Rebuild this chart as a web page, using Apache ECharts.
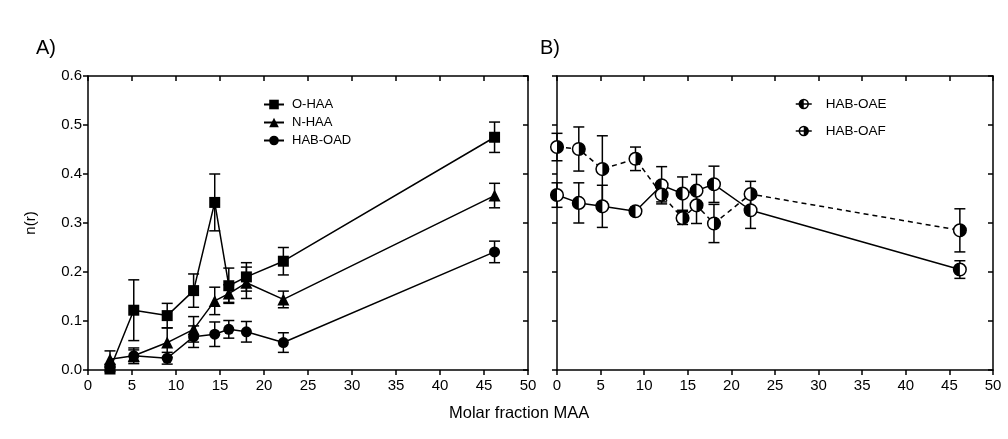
<!DOCTYPE html>
<html>
<head>
<meta charset="utf-8">
<script src="https://cdn.jsdelivr.net/npm/echarts@6/dist/echarts.min.js"></script>
<style>
html,body{margin:0;padding:0;background:#fff;}
#chart{width:1008px;height:439px;}
</style>
</head>
<body>
<div id="chart"></div>
<script>
// ---------- data ----------
const xTicks = [0, 5, 10, 15, 20, 25, 30, 35, 40, 45, 50];
const yTicks = [0.0, 0.1, 0.2, 0.3, 0.4, 0.5, 0.6];

// Panel A
const xA = [2.5, 5.2, 9.0, 12.0, 14.4, 16.0, 18.0, 22.2, 46.2];
const oHAA = [0.002, 0.122, 0.111, 0.162, 0.342, 0.172, 0.190, 0.222, 0.475];
const oHAAErr = [0.005, 0.062, 0.025, 0.034, 0.058, 0.036, 0.029, 0.028, 0.031];
const nHAA = [0.022, 0.029, 0.056, 0.083, 0.141, 0.156, 0.178, 0.144, 0.356];
const nHAAErr = [0.017, 0.012, 0.030, 0.026, 0.028, 0.018, 0.032, 0.017, 0.025];
const xOAD = [5.2, 9.0, 12.0, 14.4, 16.0, 18.0, 22.2, 46.2];
const habOAD = [0.029, 0.024, 0.068, 0.073, 0.083, 0.078, 0.056, 0.241];
const habOADErr = [0.016, 0.012, 0.022, 0.025, 0.018, 0.021, 0.020, 0.022];

// Panel B
const xB = [0, 2.5, 5.2, 9.0, 12.0, 14.4, 16.0, 18.0, 22.2, 46.2];
const habOAE = [0.357, 0.341, 0.334, 0.324, 0.377, 0.360, 0.366, 0.379, 0.326, 0.205];
const habOAEErr = [0.025, 0.041, 0.043, 0.008, 0.038, 0.034, 0.033, 0.037, 0.037, 0.018];
const habOAF = [0.455, 0.451, 0.410, 0.431, 0.358, 0.310, 0.336, 0.299, 0.359, 0.285];
const habOAFErr = [0.028, 0.045, 0.068, 0.024, 0.015, 0.013, 0.037, 0.039, 0.026, 0.044];

// ---------- helpers ----------
const FONT = '"Liberation Sans", Arial, Helvetica, sans-serif';
const BLACK = '#000';
const zip = (xs, ys) => xs.map((x, i) => [x, ys[i]]);

const LEFT_HALF = 'path://M10,0 A10,10 0 1,1 10,20 A10,10 0 1,1 10,0 Z M10,3 A7,7 0 1,0 10,17 A7,7 0 1,0 10,3 Z M10,3 A7,7 0 0,0 10,17 Z';
const RIGHT_HALF = 'path://M10,0 A10,10 0 1,1 10,20 A10,10 0 1,1 10,0 Z M10,3 A7,7 0 1,0 10,17 A7,7 0 1,0 10,3 Z M10,3 A7,7 0 0,1 10,17 Z';

function errSeries(xs, ys, es, xi, yi) {
  return {
    type: 'custom', xAxisIndex: xi, yAxisIndex: yi, z: 2, silent: true,
    data: xs.map((x, i) => [x, ys[i] - es[i], ys[i] + es[i]]),
    encode: { x: 0, y: [1, 2] },
    renderItem: function (params, api) {
      const lo = api.coord([api.value(0), api.value(1)]);
      const hi = api.coord([api.value(0), api.value(2)]);
      const w = 5.5;
      const st = { stroke: BLACK, lineWidth: 1.5 };
      return { type: 'group', children: [
        { type: 'line', shape: { x1: lo[0], y1: lo[1], x2: hi[0], y2: hi[1] }, style: st },
        { type: 'line', shape: { x1: lo[0] - w, y1: lo[1], x2: lo[0] + w, y2: lo[1] }, style: st },
        { type: 'line', shape: { x1: hi[0] - w, y1: hi[1], x2: hi[0] + w, y2: hi[1] }, style: st }
      ]};
    }
  };
}

function halfMarkerSeries(xs, ys, side, xi, yi) {
  return {
    type: 'custom', xAxisIndex: xi, yAxisIndex: yi, z: 4, silent: true,
    data: zip(xs, ys),
    encode: { x: 0, y: 1 },
    renderItem: function (params, api) {
      const p = api.coord([api.value(0), api.value(1)]);
      const r = 6.3;
      const start = side === 'left' ? Math.PI / 2 : -Math.PI / 2;
      return { type: 'group', children: [
        { type: 'circle', shape: { cx: p[0], cy: p[1], r: r }, style: { fill: '#fff', stroke: BLACK, lineWidth: 1.5 } },
        { type: 'sector', shape: { cx: p[0], cy: p[1], r0: 0, r: r, startAngle: start, endAngle: start + Math.PI, clockwise: true }, style: { fill: BLACK } }
      ]};
    }
  };
}

function lineSeries(name, xs, ys, symbol, size, xi, yi, dashed, showSymbol) {
  return {
    name: name, type: 'line', xAxisIndex: xi, yAxisIndex: yi, z: 3, silent: true,
    data: zip(xs, ys),
    symbol: symbol, symbolSize: size, showSymbol: showSymbol,
    itemStyle: { color: BLACK, borderWidth: 0 },
    lineStyle: { color: BLACK, width: 1.5, type: dashed ? [5, 4] : 'solid' },
    emphasis: { disabled: true }
  };
}

function xAxes(grid) {
  const base = {
    gridIndex: grid, type: 'value', min: xTicks[0], max: xTicks[xTicks.length - 1], interval: xTicks[1] - xTicks[0],
    splitLine: { show: false },
    axisLine: { onZero: false, lineStyle: { color: BLACK, width: 1.5 } },
    axisTick: { length: 5, lineStyle: { color: BLACK, width: 1.5 } }
  };
  return [
    Object.assign({}, base, { position: 'bottom',
      axisLabel: { color: BLACK, fontSize: 15, fontFamily: FONT, margin: 8 } }),
    Object.assign({}, base, { position: 'top',
      axisTick: { inside: true, length: 5, lineStyle: { color: BLACK, width: 1.5 } },
      axisLabel: { show: false } })
  ];
}

function yAxes(grid, showLabels) {
  const base = {
    gridIndex: grid, type: 'value', min: yTicks[0], max: yTicks[yTicks.length - 1], interval: 0.1,
    splitLine: { show: false },
    axisLine: { onZero: false, lineStyle: { color: BLACK, width: 1.5 } },
    axisTick: { length: 5, lineStyle: { color: BLACK, width: 1.5 } }
  };
  return [
    Object.assign({}, base, { position: 'left',
      name: showLabels ? 'n(r)' : '', nameLocation: 'middle', nameGap: 50,
      nameTextStyle: { color: BLACK, fontSize: 15, fontFamily: FONT },
      axisLabel: { show: showLabels, color: BLACK, fontSize: 15, fontFamily: FONT, margin: 6,
        formatter: v => v.toFixed(1) } }),
    Object.assign({}, base, { position: 'right',
      axisTick: { inside: true, length: 5, lineStyle: { color: BLACK, width: 1.5 } },
      axisLabel: { show: false } })
  ];
}

const option = {
  animation: false,
  backgroundColor: '#fff',
  grid: [
    { left: 88, top: 76, width: 440, height: 294 },
    { left: 557, top: 76, width: 436, height: 294 }
  ],
  xAxis: xAxes(0).concat(xAxes(1)),
  yAxis: yAxes(0, true).concat(yAxes(1, false)),
  legend: [
    {
      data: ['O-HAA', 'N-HAA', 'HAB-OAD'], orient: 'vertical', left: 258, top: 93,
      itemWidth: 20, itemHeight: 12, itemGap: 5, selectedMode: false,
      textStyle: { color: BLACK, fontSize: 13, fontFamily: FONT, padding: [0, 0, 0, 3] }
    },
    {
      data: ['HAB-OAE', 'HAB-OAF'], orient: 'vertical', left: 790, top: 92,
      itemWidth: 16, itemHeight: 13, itemGap: 13, selectedMode: false,
      lineStyle: { type: 'solid', width: 1.5 },
      textStyle: { color: BLACK, fontSize: 13.5, fontFamily: FONT, padding: [0, 0, 0, 9] }
    }
  ],
  graphic: [
    { type: 'text', left: 36, top: 38, style: { text: 'A)', fontSize: 20, fontFamily: FONT, fill: BLACK } },
    { type: 'text', left: 540, top: 38, style: { text: 'B)', fontSize: 20, fontFamily: FONT, fill: BLACK } },
    { type: 'text', left: 449, top: 405, style: { text: 'Molar fraction MAA', fontSize: 16.5, fontFamily: FONT, fill: BLACK } }
  ],
  series: [
    errSeries(xA, oHAA, oHAAErr, 0, 0),
    errSeries(xA, nHAA, nHAAErr, 0, 0),
    errSeries(xOAD, habOAD, habOADErr, 0, 0),
    lineSeries('O-HAA', xA, oHAA, 'rect', 11, 0, 0, false, true),
    lineSeries('N-HAA', xA, nHAA, 'triangle', 12, 0, 0, false, true),
    lineSeries('HAB-OAD', xOAD, habOAD, 'circle', 11, 0, 0, false, true),

    errSeries(xB, habOAE, habOAEErr, 2, 2),
    errSeries(xB, habOAF, habOAFErr, 2, 2),
    lineSeries('HAB-OAE', xB, habOAE, LEFT_HALF, 12, 2, 2, false, false),
    lineSeries('HAB-OAF', xB, habOAF, RIGHT_HALF, 12, 2, 2, true, false),
    halfMarkerSeries(xB, habOAE, 'left', 2, 2),
    halfMarkerSeries(xB, habOAF, 'right', 2, 2)
  ]
};

const chart = echarts.init(document.getElementById('chart'), null, { renderer: 'canvas' });
chart.setOption(option);
</script>
</body>
</html>
